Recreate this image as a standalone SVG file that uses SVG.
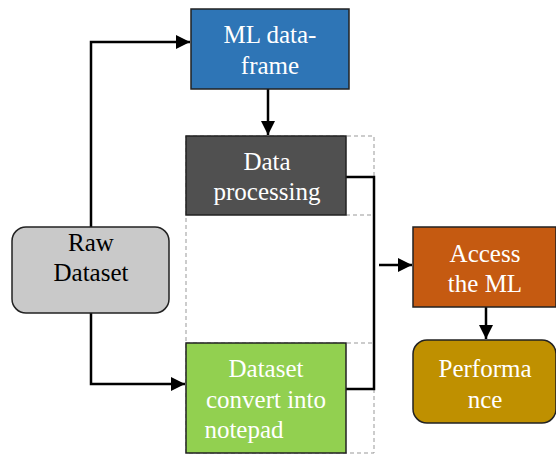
<svg xmlns="http://www.w3.org/2000/svg" width="556" height="456" viewBox="0 0 556 456">
<style>
.t{font-family:"Liberation Serif","Times New Roman",serif;font-size:25px;text-anchor:middle;fill:#fff}
.k{fill:#000}
.b{stroke:#222;stroke-width:1.5}
.c{fill:none;stroke:#000;stroke-width:2.5}
.d{fill:none;stroke:#999;stroke-width:1;stroke-dasharray:4 3}
</style>
<defs>
<marker id="a" viewBox="0 0 10 10" refX="10" refY="5" markerWidth="6" markerHeight="6" markerUnits="userSpaceOnUse" orient="auto"><path d="M0,0L10,5L0,10z" fill="#000"/></marker>
<marker id="ah" viewBox="0 0 10 10" refX="10" refY="5" markerWidth="14" markerHeight="14" markerUnits="userSpaceOnUse" orient="auto"><path d="M0,0L10,5L0,10z" fill="#000"/></marker>
</defs>
<g id="frame">
<rect class="d" x="186" y="136" width="188" height="317"/>
<line class="d" x1="346" y1="215" x2="374" y2="215"/>
<line class="d" x1="186" y1="343" x2="374" y2="343"/>
</g>
<g id="connectors">
<path class="c" d="M91,227V42H190" marker-end="url(#ah)"/>
<path class="c" d="M91,313V384H185" marker-end="url(#ah)"/>
<path class="c" d="M268,89V135" marker-end="url(#ah)"/>
<path class="c" d="M346,177H374V389H346"/>
<path class="c" d="M379,265H412" marker-end="url(#ah)"/>
<path class="c" d="M486,307V339" marker-end="url(#ah)"/>
</g>
<g id="ml">
<rect class="b" x="191" y="9" width="158" height="80" fill="#2E75B6"/>
<text class="t" x="270" y="43">ML data-</text>
<text class="t" x="270" y="74">frame</text>
</g>
<g id="proc">
<rect class="b" x="186" y="136" width="160" height="79" fill="#505050"/>
<text class="t" x="267" y="170">Data</text>
<text class="t" x="267" y="200">processing</text>
</g>
<g id="raw">
<rect class="b" x="12" y="227" width="157" height="86" rx="14" fill="#C9C9C9"/>
<text class="t k" x="91" y="251">Raw</text>
<text class="t k" x="91" y="281">Dataset</text>
</g>
<g id="conv">
<rect class="b" x="186" y="343" width="160" height="110" fill="#92D050"/>
<text class="t" x="266" y="377">Dataset</text>
<text class="t" x="266" y="408">convert into</text>
<text class="t" x="244" y="438">notepad</text>
</g>
<g id="access">
<rect class="b" x="413" y="227" width="143" height="80" fill="#C55A11"/>
<text class="t" x="485" y="262">Access</text>
<text class="t" x="485" y="292">the ML</text>
</g>
<g id="perf">
<rect class="b" x="413" y="340" width="143" height="83" rx="14" fill="#BF9000"/>
<text class="t" x="485" y="377">Performa</text>
<text class="t" x="485" y="408">nce</text>
</g>
</svg>
